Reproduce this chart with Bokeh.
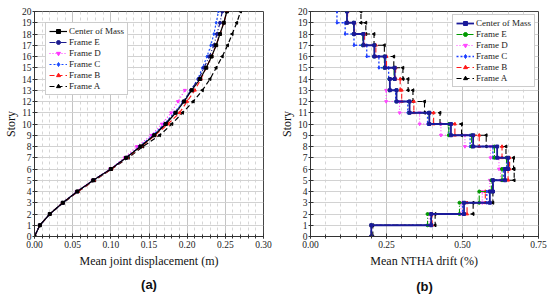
import math
from bokeh.plotting import figure
from bokeh.layouts import row
from bokeh.models import (FixedTicker, NumeralTickFormatter, Legend, LegendItem, Title)
from bokeh.embed import file_html
from bokeh.resources import INLINE

# ---------------- data ----------------
stories = list(range(21))
disp_com = [0, 0.007, 0.02, 0.037, 0.056, 0.077, 0.1, 0.12, 0.139, 0.157, 0.172, 0.185, 0.196, 0.206, 0.217, 0.225, 0.232, 0.238, 0.243, 0.248, 0.252]
disp_e   = [0, 0.007, 0.02, 0.037, 0.056, 0.077, 0.1, 0.12, 0.138, 0.156, 0.171, 0.184, 0.195, 0.205, 0.215, 0.222, 0.229, 0.235, 0.239, 0.243, 0.246]
disp_d   = [0, 0.007, 0.02, 0.037, 0.055, 0.076, 0.099, 0.118, 0.134, 0.153, 0.167, 0.179, 0.188, 0.197]
disp_c   = [0, 0.007, 0.02, 0.037, 0.056, 0.077, 0.1, 0.12, 0.138, 0.155, 0.17, 0.183, 0.195, 0.205, 0.214, 0.22, 0.226, 0.231, 0.235, 0.238, 0.241]
disp_b   = [0, 0.007, 0.02, 0.037, 0.057, 0.078, 0.101, 0.121, 0.14, 0.158, 0.175, 0.19, 0.2, 0.21, 0.218, 0.225, 0.232, 0.238, 0.243, 0.248, 0.252]
disp_a   = [0, 0.007, 0.02, 0.038, 0.057, 0.079, 0.101, 0.123, 0.142, 0.164, 0.18, 0.194, 0.208, 0.22, 0.23, 0.238, 0.246, 0.253, 0.259, 0.265, 0.27]

# drift per story (story 1..n)
drift_com = [0.20, 0.397, 0.505, 0.59, 0.60, 0.64, 0.65, 0.614, 0.535, 0.462, 0.391, 0.326, 0.283, 0.261, 0.277, 0.245, 0.21, 0.174, 0.143, 0.12]
drift_e   = [0.20, 0.385, 0.49, 0.555, 0.595, 0.63, 0.645, 0.605, 0.53, 0.455, 0.39, 0.325, 0.283, 0.26, 0.275, 0.243, 0.21, 0.172, 0.142, 0.12]
drift_d   = [0.20, 0.39, 0.495, 0.565, 0.59, 0.625, 0.62, 0.592, 0.508, 0.429, 0.359, 0.293, 0.249]
drift_c   = [0.20, 0.395, 0.50, 0.58, 0.60, 0.635, 0.645, 0.60, 0.525, 0.455, 0.385, 0.32, 0.28, 0.261, 0.257, 0.225, 0.185, 0.143, 0.114, 0.087]
drift_b   = [0.20, 0.40, 0.515, 0.575, 0.60, 0.65, 0.655, 0.63, 0.555, 0.475, 0.405, 0.34, 0.30, 0.295, 0.28, 0.25, 0.215, 0.178, 0.145, 0.122]
drift_a   = [0.205, 0.41, 0.535, 0.60, 0.60, 0.67, 0.668, 0.643, 0.578, 0.497, 0.426, 0.375, 0.337, 0.321, 0.304, 0.274, 0.243, 0.209, 0.182, 0.166]

labels = ["Center of Mass", "Frame E", "Frame D", "Frame C", "Frame B", "Frame A"]
xticks_a = [0, 0.05, 0.10, 0.15, 0.20, 0.25, 0.30]
xticks_b = [0, 0.25, 0.50, 0.75]

SERIF = "'Liberation Serif', 'Times New Roman', serif"


def style(p, xticks, xminor):
    p.outline_line_color = "#444444"
    p.outline_line_width = 1
    p.xaxis.ticker = FixedTicker(ticks=xticks, minor_ticks=xminor)
    p.yaxis.ticker = FixedTicker(ticks=stories)
    p.xaxis.formatter = NumeralTickFormatter(format="0.00")
    for ax in (p.xaxis, p.yaxis):
        ax.axis_line_color = "#333333"
        ax.major_tick_line_color = "#333333"
        ax.minor_tick_line_color = "#333333"
        ax.major_tick_in = 3
        ax.major_tick_out = 2
        ax.minor_tick_in = 2
        ax.minor_tick_out = 2
        ax.major_label_text_font = SERIF
        ax.major_label_text_font_size = "9.5px"
        ax.major_label_text_color = "#222222"
        ax.major_label_standoff = 2
        ax.axis_label_text_font = SERIF
        ax.axis_label_text_font_size = "12px"
        ax.axis_label_text_font_style = "normal"
        ax.axis_label_text_color = "#111111"
        ax.axis_label_standoff = 2
    p.yaxis.minor_tick_line_color = None
    p.yaxis.axis_label_standoff = 1
    p.yaxis.major_label_standoff = 1
    p.xaxis.axis_label_standoff = 3
    p.xgrid.grid_line_color = "#c4c4c4"
    p.xgrid.minor_grid_line_color = "#d6d6d6"
    p.xgrid.minor_grid_line_dash = "3 3"
    p.ygrid.grid_line_color = "#d2d2d2"
    p.background_fill_color = "white"
    p.border_fill_color = "white"


def make_legend(p, items, loc, margin):
    leg = Legend(items=[LegendItem(label=l, renderers=r) for l, r in items],
                 location=loc, margin=margin)
    leg.label_text_font = SERIF
    leg.label_text_font_size = "9px"
    leg.label_text_color = "#222222"
    leg.label_height = 10
    leg.glyph_height = 10
    leg.glyph_width = 18
    leg.spacing = 1
    leg.padding = 3
    leg.label_standoff = 2
    leg.border_line_color = "#999999"
    leg.background_fill_alpha = 1
    p.add_layout(leg)


# ---------------- panel (a) ----------------
pa = figure(frame_width=229, frame_height=225, x_range=(0, 0.30), y_range=(0, 20),
            output_backend="svg", toolbar_location=None,
            min_border_left=20, min_border_right=12, min_border_top=11, min_border_bottom=2)
style(pa, xticks_a, [i / 100 for i in range(31)])
pa.xaxis.axis_label = "Mean joint displacement (m)"
pa.yaxis.axis_label = "Story"

spec_a = [
    (disp_a, "#000000", "5 3", "triangle", math.pi / 2),
    (disp_b, "#ff1a1a", "5 3", "triangle", 0),
    (disp_c, "#1a4cff", "2 2", "diamond", 0),
    (disp_d, "#ff33ff", "1 2", "inverted_triangle", 0),
    (disp_e, "#1c1c8f", "6 2 1 2", "circle", 0),
    (disp_com, "#000000", "solid", "square", 0),
]
rend_a = []
for xs, col, dash, mk, ang in spec_a:
    ys = stories[:len(xs)]
    l = pa.line(xs, ys, line_color=col, line_width=1.2, line_dash=dash)
    s = pa.scatter(xs, ys, marker=mk, size=3, angle=ang, fill_color=col, line_color=col)
    rend_a.append([l, s])
rend_a = rend_a[::-1]
make_legend(pa, list(zip(labels, rend_a)), "top_left", 11)
pa.add_layout(Title(text="(a)", align="center", text_font="Liberation Sans",
                    text_font_size="13px", text_font_style="bold", text_color="#111111",
                    standoff=9, offset=0), "below")


# ---------------- panel (b) ----------------
def step_path(d):
    xs, ys = [], []
    for i, v in enumerate(d):
        xs += [v, v]
        ys += [i, i + 1]
    return xs, ys


pb = figure(frame_width=228, frame_height=225, x_range=(0, 0.75), y_range=(0, 20),
            output_backend="svg", toolbar_location=None,
            min_border_left=35, min_border_right=9, min_border_top=7, min_border_bottom=2)
style(pb, xticks_b, [i * 0.05 for i in range(16)])
pb.xaxis.axis_label = "Mean NTHA drift (%)"
pb.yaxis.axis_label = "Story"

spec_b = [
    (drift_a, "#000000", "5 3", "triangle", math.pi / 2, 1.1),
    (drift_b, "#ff1a1a", "5 3", "triangle", 0, 1.1),
    (drift_c, "#1a3cff", "2 2", "diamond", 0, 1.3),
    (drift_d, "#ff44ff", "1 2", "inverted_triangle", 0, 1.1),
    (drift_e, "#009900", "6 2 1 2", "circle", 0, 1.1),
    (drift_com, "#1a1a99", "solid", "square", 0, 1.8),
]
rend_b = []
for d, col, dash, mk, ang, lw in spec_b:
    xs, ys = step_path(d)
    l = pb.line(xs, ys, line_color=col, line_width=lw, line_dash=dash)
    s = pb.scatter(xs, ys, marker=mk, size=3, angle=ang, fill_color=col, line_color=col)
    rend_b.append([l, s])
rend_b = rend_b[::-1]
make_legend(pb, list(zip(labels, rend_b)), "top_right", 3)
pb.add_layout(Title(text="(b)", align="center", text_font="Liberation Sans",
                    text_font_size="13px", text_font_style="bold", text_color="#111111",
                    standoff=13, offset=0), "below")

layout = row(pa, pb)
open("out.html", "w").write(file_html(layout, INLINE))
